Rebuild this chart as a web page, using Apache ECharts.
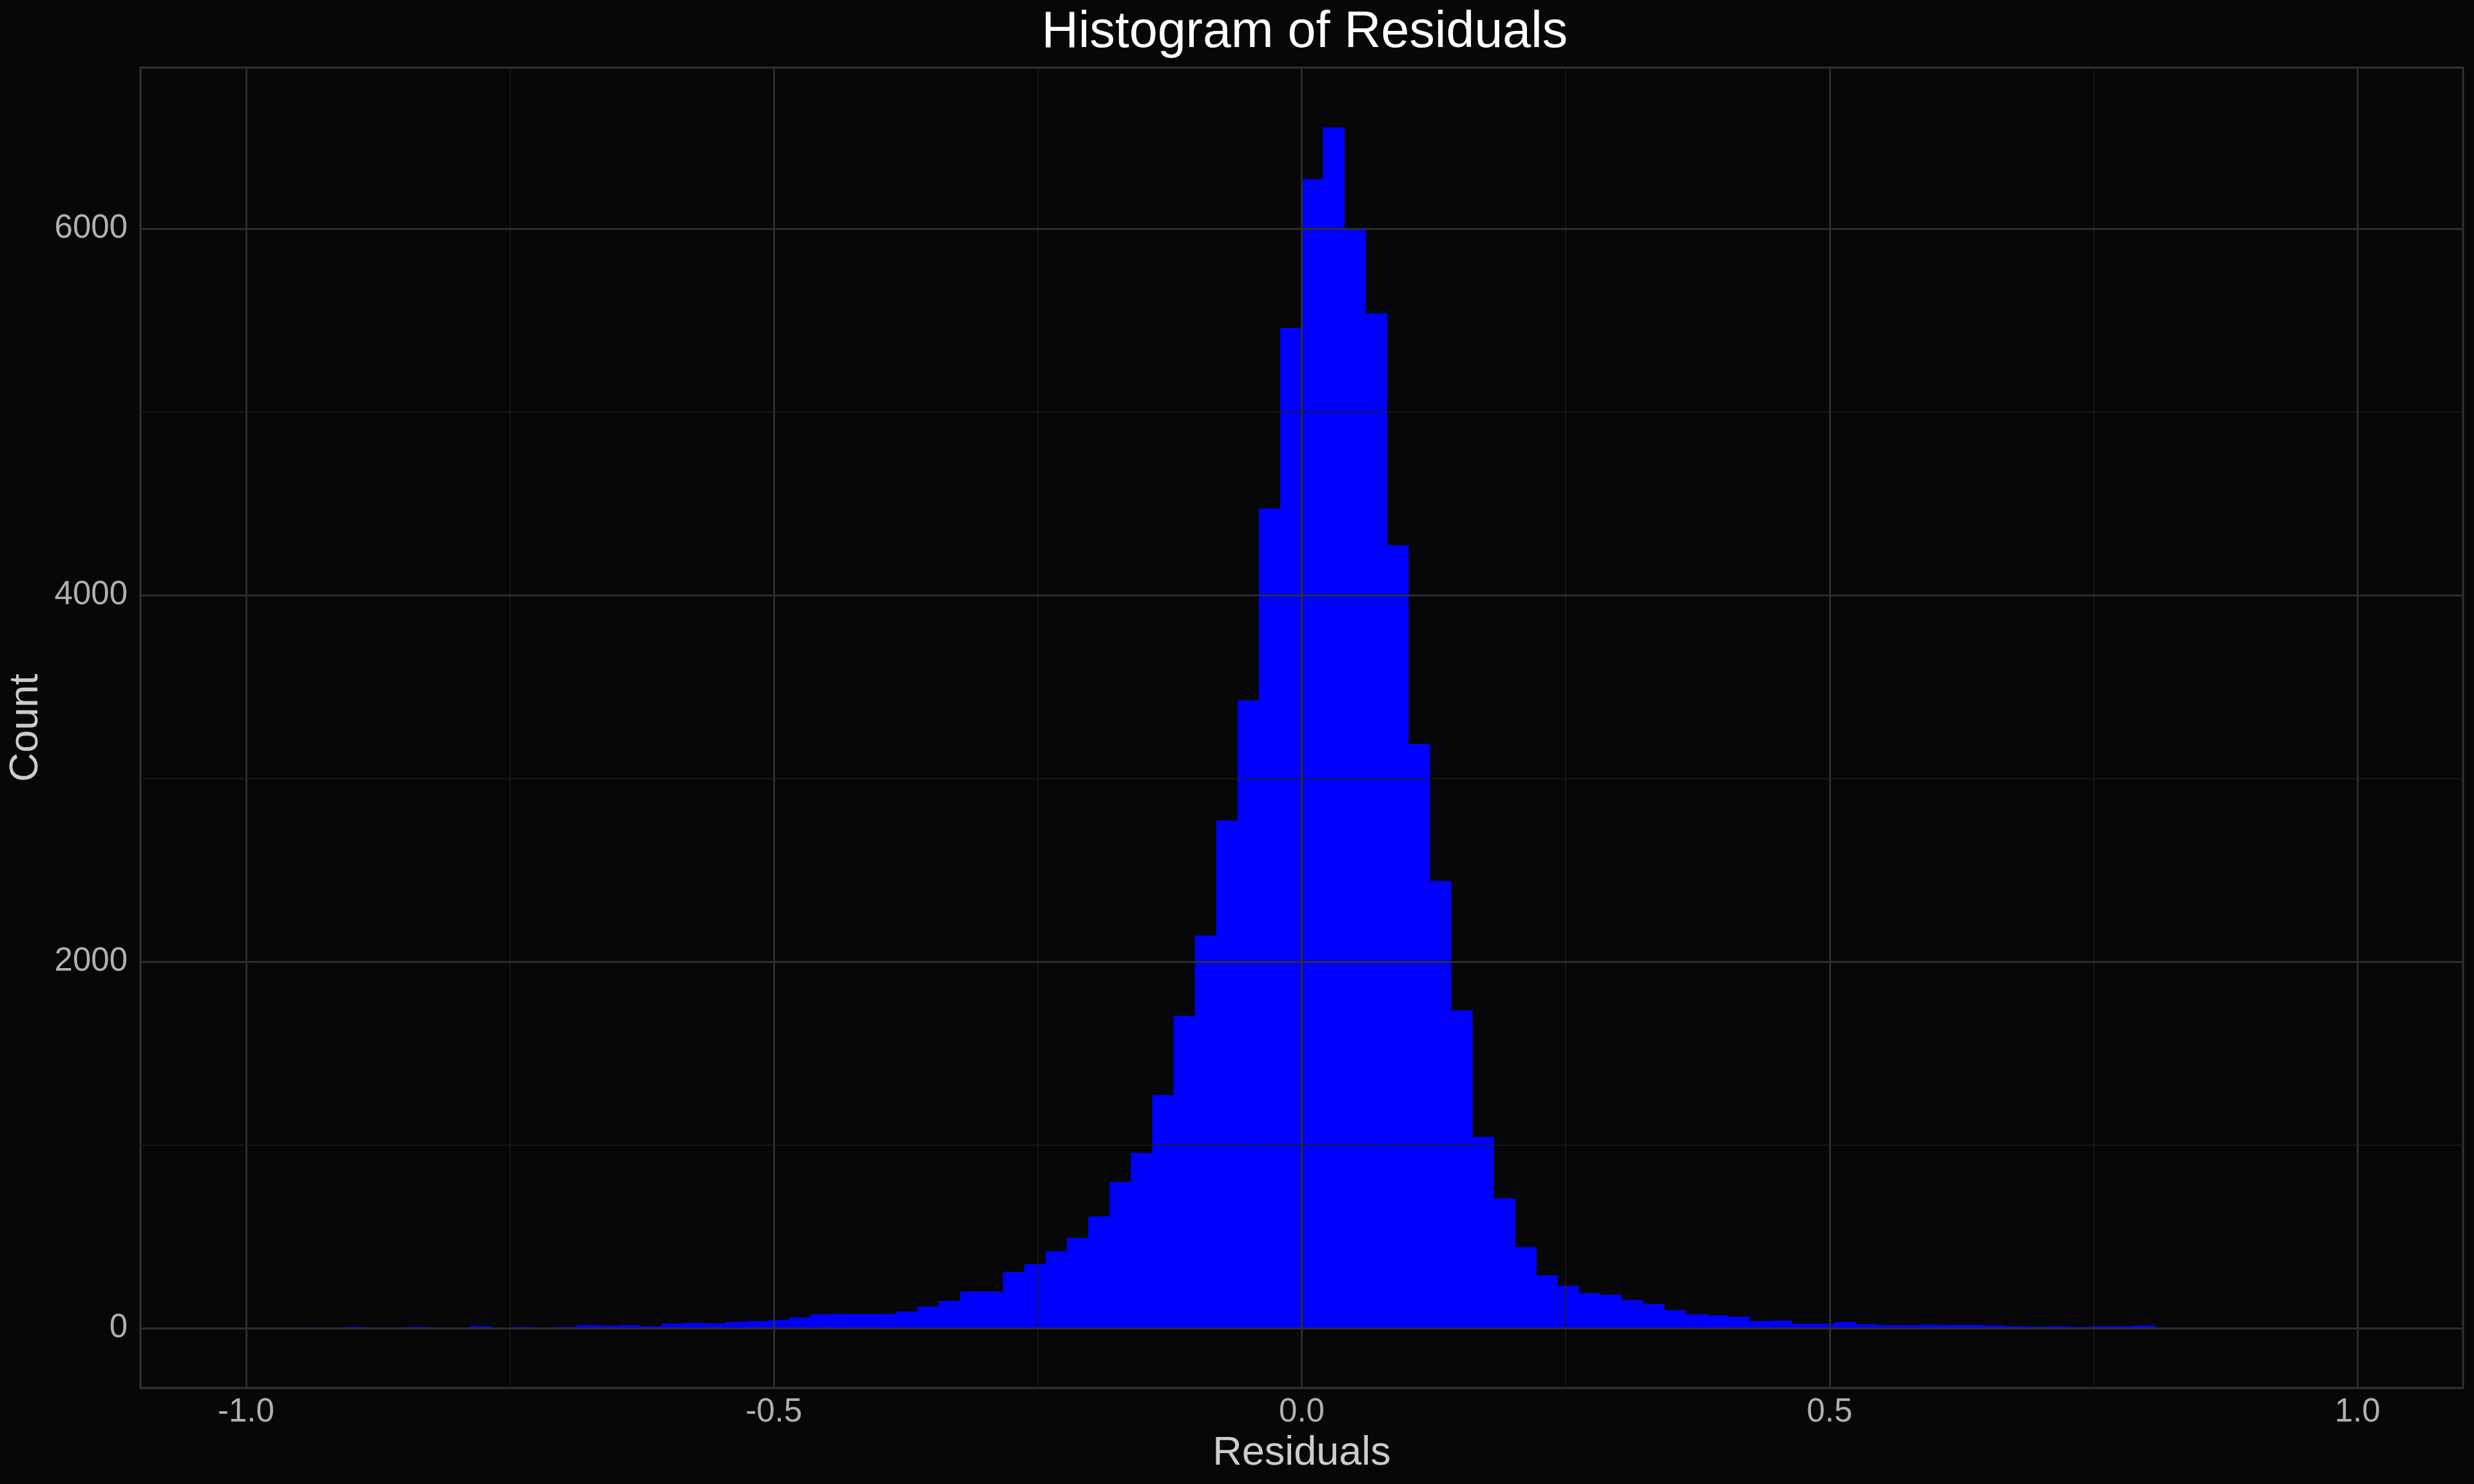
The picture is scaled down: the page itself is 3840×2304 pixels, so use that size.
<!DOCTYPE html>
<html>
<head>
<meta charset="utf-8">
<script src="https://cdn.jsdelivr.net/npm/echarts@6/dist/echarts.min.js"></script>
<style>
  html, body { margin: 0; padding: 0; background: #070707; }
  #chart { width: 3840px; height: 2304px; }
</style>
</head>
<body>
<div id="chart"></div>
<script>
// ---- Data ----
// Histogram: 100 bins over [-1, 1] (bin width 2/99, first bin centred on -1);
// the two outermost bins fall outside the axis limits and are not drawn.
const binCountTotal = 100;
const rangeMin = -1;
const rangeMax = 1;
// counts for visible bins k = 1 .. 98
const counts = [
  1, 1, 2, 1, 5, 2, 2, 5, 2, 1,
  8, 1, 5, 2, 5, 15, 12, 15, 9, 23,
  27, 24, 32, 36, 43, 57, 74, 76, 75, 76,
  88, 116, 147, 198, 198, 305, 347, 418, 490, 608,
  796, 954, 1270, 1703, 2141, 2769, 3425, 4472, 5458, 6270,
  6552, 5998, 5537, 4271, 3186, 2438, 1733, 1041, 706, 440,
  286, 229, 190, 180, 151, 130, 95, 74, 67, 60,
  36, 39, 22, 22, 32, 20, 15, 15, 17, 16,
  16, 13, 8, 6, 8, 5, 8, 8, 13, 2,
  1, 1, 0, 1, 1, 1, 1, 1
];
const xTicks = [-1.0, -0.5, 0.0, 0.5, 1.0];
const xMinorGrid = [-0.75, -0.25, 0.25, 0.75];
const yTicks = [0, 2000, 4000, 6000];
const yMinorGrid = [1000, 3000, 5000];
const titleText = 'Histogram of Residuals';
const xTitle = 'Residuals';
const yTitle = 'Count';

// ---- Build bins ----
const binWidth = (rangeMax - rangeMin) / (binCountTotal - 1);
const bars = counts.map((c, i) => {
  const k = i + 1;
  const left = rangeMin - binWidth / 2 + k * binWidth;
  return [left, left + binWidth, c];
});
const maxCount = Math.max(...counts);
const xPad = 0.05 * (rangeMax - rangeMin);
const yLo = -0.05 * maxCount;
const yHi = 1.05 * maxCount;

const FONT = '"Liberation Sans", Arial, Helvetica, sans-serif';
const majorColor = '#2d2d2d';
const minorColor = '#1e1e1e';

const gridLines = [];
xTicks.forEach(v => gridLines.push({ xAxis: v, lineStyle: { color: majorColor, width: 3, type: 'solid' } }));
xMinorGrid.forEach(v => gridLines.push({ xAxis: v, lineStyle: { color: minorColor, width: 1.5, type: 'solid' } }));
yTicks.forEach(v => gridLines.push({ yAxis: v, lineStyle: { color: majorColor, width: 3, type: 'solid' } }));
yMinorGrid.forEach(v => gridLines.push({ yAxis: v, lineStyle: { color: minorColor, width: 1.5, type: 'solid' } }));

const chart = echarts.init(document.getElementById('chart'), null, { renderer: 'canvas' });
chart.setOption({
  backgroundColor: '#070707',
  animation: false,
  title: {
    text: titleText,
    left: 2020, textAlign: 'center',
    top: 7,
    textStyle: { color: '#ffffff', fontSize: 79, fontWeight: 'normal', fontFamily: FONT }
  },
  grid: {
    left: 218, right: 17, top: 105, bottom: 149,
    outerBoundsMode: 'none', containLabel: false,
    show: true, backgroundColor: '#070707', borderColor: '#333333', borderWidth: 3
  },
  xAxis: {
    type: 'value',
    min: rangeMin - xPad, max: rangeMax + xPad,
    name: xTitle, nameLocation: 'middle', nameGap: 70,
    nameTextStyle: { color: '#cccccc', fontSize: 63, fontFamily: FONT },
    axisLine: { show: false },
    splitLine: { show: false },
    axisTick: { show: true, length: 8, customValues: xTicks, lineStyle: { color: '#b0b0b0', width: 3 } },
    axisLabel: {
      customValues: xTicks, margin: 12, color: '#b0b0b0', fontSize: 51, fontFamily: FONT,
      formatter: v => Number(v).toFixed(1)
    }
  },
  yAxis: {
    type: 'value',
    min: yLo, max: yHi,
    name: yTitle, nameLocation: 'middle', nameGap: 146, nameRotate: 90,
    nameTextStyle: { color: '#cccccc', fontSize: 63, fontFamily: FONT },
    axisLine: { show: false },
    splitLine: { show: false },
    axisTick: { show: true, length: 8, customValues: yTicks, lineStyle: { color: '#b0b0b0', width: 3 } },
    axisLabel: {
      customValues: yTicks, margin: 20, color: '#b0b0b0', fontSize: 51, fontFamily: FONT,
      formatter: v => String(Math.round(v))
    }
  },
  series: [
    {
      type: 'line', data: [], z: 1, silent: true,
      markLine: { silent: true, symbol: ['none', 'none'], label: { show: false }, animation: false, data: gridLines }
    },
    {
      type: 'custom', z: 3,
      data: bars,
      encode: { x: [0, 1], y: 2 },
      renderItem: function (params, api) {
        const x0 = api.value(0), x1 = api.value(1), c = api.value(2);
        if (!(c > 0)) return null;
        const pTop = api.coord([x0, c]);
        const pBot = api.coord([x1, 0]);
        return {
          type: 'rect',
          shape: { x: pTop[0], y: pTop[1], width: pBot[0] - pTop[0], height: pBot[1] - pTop[1] },
          style: { fill: '#0000ff', stroke: '#0000ff', lineWidth: 0.8 }
        };
      }
    }
  ]
});
</script>
</body>
</html>
